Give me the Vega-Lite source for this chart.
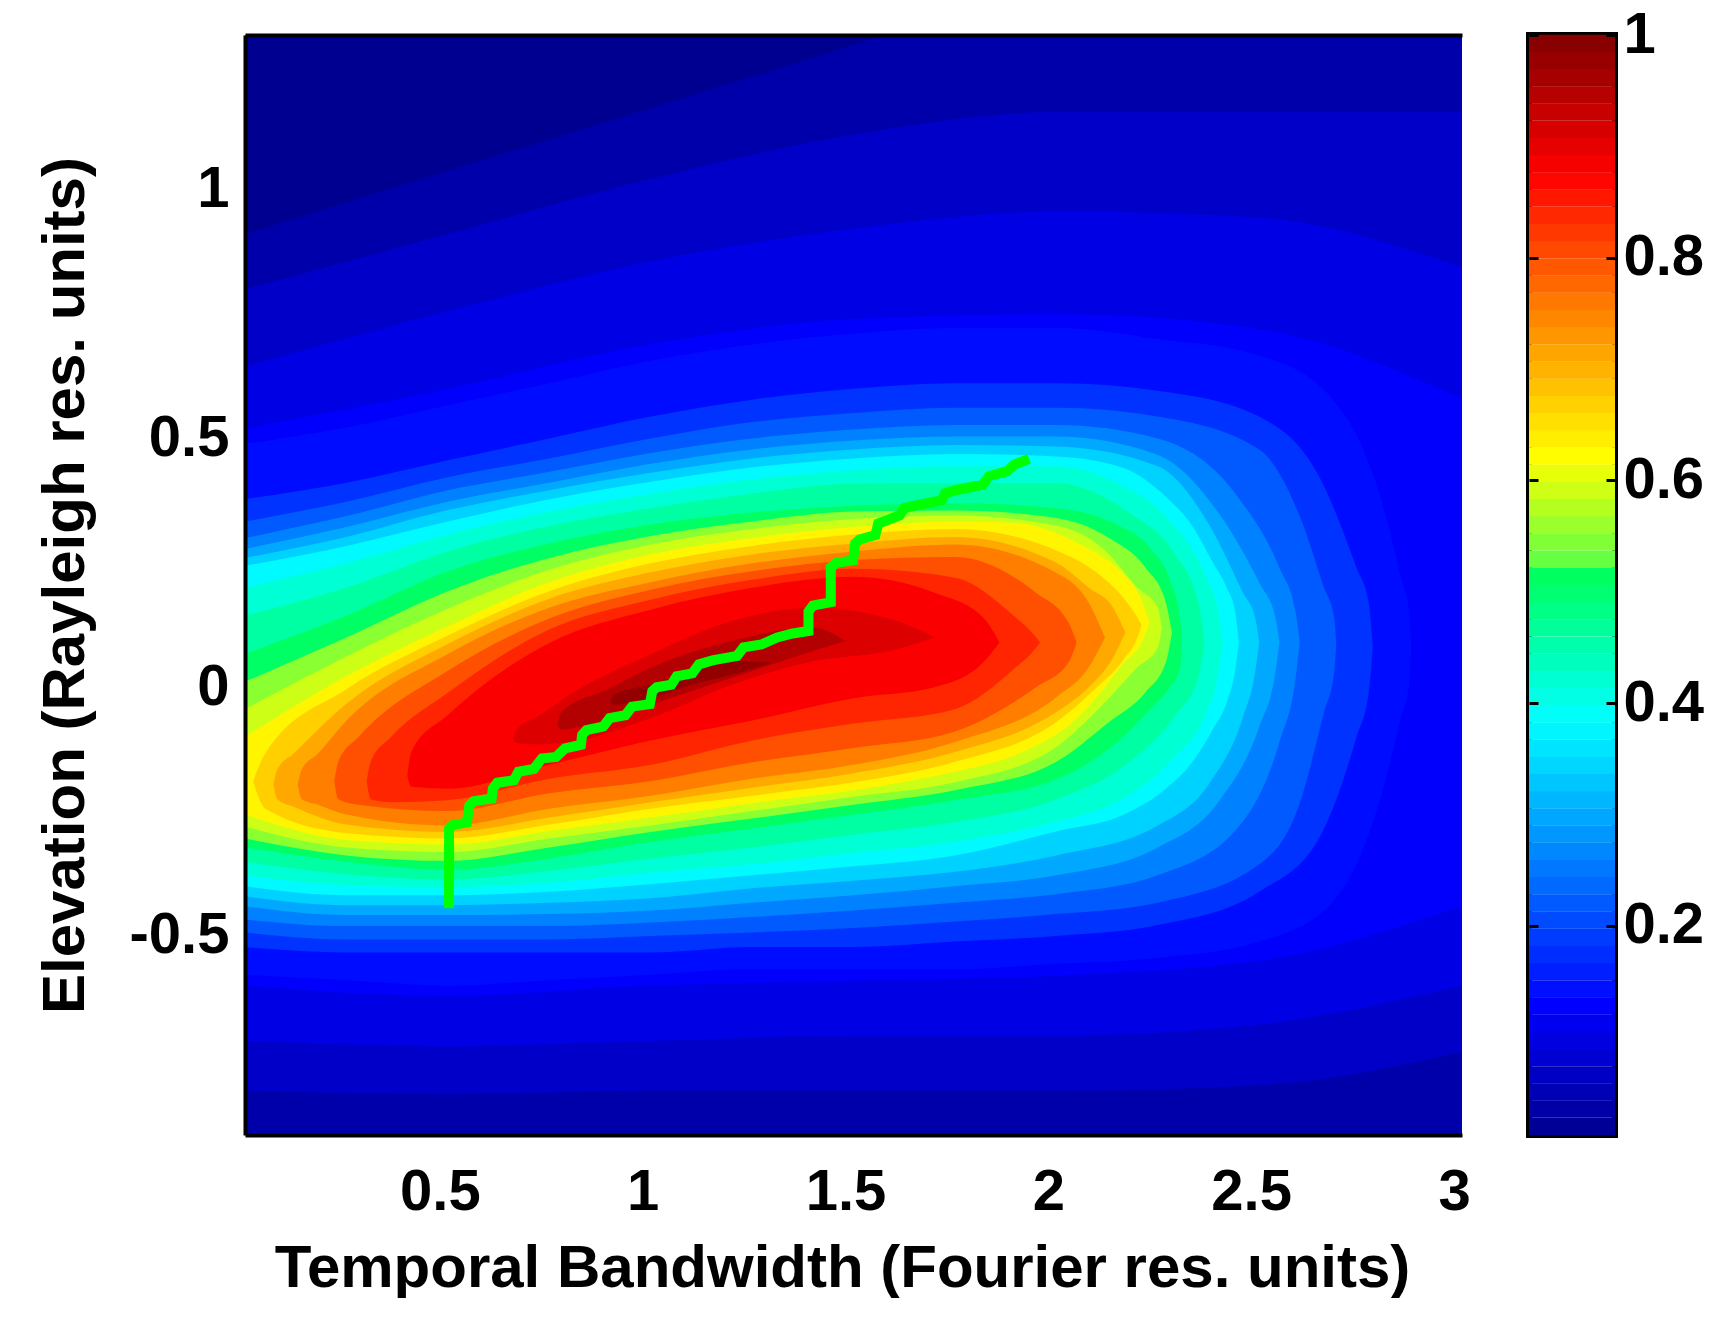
{
  "$schema": "https://vega.github.io/schema/vega-lite/v6.json",
  "description": "Normalised response over temporal bandwidth and elevation with ridge line and colour bar.",
  "background": "white",
  "padding": {"left": 35, "top": 3, "right": 0, "bottom": 0},
  "spacing": 53,
  "config": {
    "font": "Liberation Sans",
    "axis": {
      "grid": false, "domain": false, "ticks": false,
      "labelFont": "Liberation Sans", "labelFontWeight": "bold", "labelFontSize": 58, "labelColor": "#000000",
      "titleFont": "Liberation Sans", "titleFontWeight": "bold", "titleFontSize": 60, "titleColor": "#000000"
    }
  },
  "datasets": {
    "bands": [
      {"level":0.04,"x":0,"top":0.911,"bottom":-1},{"level":0.04,"x":0.5,"top":1.038,"bottom":-1},{"level":0.04,"x":1,"top":1.164,"bottom":-1},{"level":0.04,"x":1.5,"top":1.291,"bottom":-1},{"level":0.04,"x":1.65,"top":1.33,"bottom":-1},{"level":0.04,"x":2,"top":1.4,"bottom":-1},{"level":0.04,"x":3,"top":1.5,"bottom":-1},
      {"level":0.07,"x":0,"top":0.8,"bottom":-0.811},{"level":0.07,"x":0.5,"top":0.911,"bottom":-0.818},{"level":0.07,"x":1,"top":1.022,"bottom":-0.811},{"level":0.07,"x":1.5,"top":1.111,"bottom":-0.811},{"level":0.07,"x":2,"top":1.156,"bottom":-0.811},{"level":0.07,"x":2.5,"top":1.156,"bottom":-0.8},{"level":0.07,"x":3,"top":1.156,"bottom":-0.733},
      {"level":0.1,"x":0,"top":0.644,"bottom":-0.711},{"level":0.1,"x":0.5,"top":0.756,"bottom":-0.722},{"level":0.1,"x":1,"top":0.856,"bottom":-0.711},{"level":0.1,"x":1.5,"top":0.922,"bottom":-0.7},{"level":0.1,"x":2,"top":0.956,"bottom":-0.7},{"level":0.1,"x":2.5,"top":0.944,"bottom":-0.678},{"level":0.1,"x":3,"top":0.844,"bottom":-0.6},
      {"level":0.125,"x":0,"top":0.52,"bottom":-0.6},{"level":0.125,"x":0.5,"top":0.6,"bottom":-0.62},{"level":0.125,"x":1,"top":0.69,"bottom":-0.6},{"level":0.125,"x":1.5,"top":0.74,"bottom":-0.59},{"level":0.125,"x":2,"top":0.75,"bottom":-0.58},{"level":0.125,"x":2.5,"top":0.72,"bottom":-0.55},{"level":0.125,"x":3,"top":0.58,"bottom":-0.44},
      {"level":0.14,"x":0,"top":0.489,"bottom":-0.578},{"level":0.14,"x":0.25,"top":0.522,"bottom":-0.589},{"level":0.14,"x":0.5,"top":0.567,"bottom":-0.6},{"level":0.14,"x":0.75,"top":0.611,"bottom":-0.589},{"level":0.14,"x":1,"top":0.656,"bottom":-0.578},{"level":0.14,"x":1.25,"top":0.689,"bottom":-0.567},{"level":0.14,"x":1.5,"top":0.711,"bottom":-0.567},{"level":0.14,"x":1.75,"top":0.722,"bottom":-0.567},{"level":0.14,"x":2,"top":0.722,"bottom":-0.556},{"level":0.14,"x":2.25,"top":0.7,"bottom":-0.544},{"level":0.14,"x":2.5,"top":0.667,"bottom":-0.511},{"level":0.14,"x":2.68,"top":0.58,"bottom":-0.433},{"level":0.14,"x":2.8,"top":0.38,"bottom":-0.22},{"level":0.14,"x":2.85,"top":0.22,"bottom":-0.06},{"level":0.14,"x":2.87,"top":0.15,"bottom":0.01},{"level":0.14,"x":2.875,"top":0.08,"bottom":0.08},
      {"level":0.18,"x":0,"top":0.378,"bottom":-0.522},{"level":0.18,"x":0.25,"top":0.411,"bottom":-0.533},{"level":0.18,"x":0.5,"top":0.456,"bottom":-0.533},{"level":0.18,"x":0.75,"top":0.5,"bottom":-0.533},{"level":0.18,"x":1,"top":0.544,"bottom":-0.533},{"level":0.18,"x":1.25,"top":0.578,"bottom":-0.522},{"level":0.18,"x":1.5,"top":0.6,"bottom":-0.522},{"level":0.18,"x":1.75,"top":0.611,"bottom":-0.511},{"level":0.18,"x":2,"top":0.611,"bottom":-0.5},{"level":0.18,"x":2.25,"top":0.596,"bottom":-0.478},{"level":0.18,"x":2.5,"top":0.544,"bottom":-0.411},{"level":0.18,"x":2.65,"top":0.42,"bottom":-0.3},{"level":0.18,"x":2.74,"top":0.24,"bottom":-0.1},{"level":0.18,"x":2.77,"top":0.17,"bottom":-0.01},{"level":0.18,"x":2.78,"top":0.08,"bottom":0.08},
      {"level":0.22,"x":0,"top":0.333,"bottom":-0.493},{"level":0.22,"x":0.25,"top":0.373,"bottom":-0.507},{"level":0.22,"x":0.5,"top":0.422,"bottom":-0.507},{"level":0.22,"x":0.75,"top":0.46,"bottom":-0.507},{"level":0.22,"x":1,"top":0.5,"bottom":-0.5},{"level":0.22,"x":1.25,"top":0.533,"bottom":-0.493},{"level":0.22,"x":1.5,"top":0.551,"bottom":-0.484},{"level":0.22,"x":1.75,"top":0.562,"bottom":-0.471},{"level":0.22,"x":2,"top":0.562,"bottom":-0.456},{"level":0.22,"x":2.25,"top":0.544,"bottom":-0.433},{"level":0.22,"x":2.5,"top":0.478,"bottom":-0.356},{"level":0.22,"x":2.6,"top":0.344,"bottom":-0.233},{"level":0.22,"x":2.66,"top":0.2,"bottom":-0.05},{"level":0.22,"x":2.685,"top":0.14,"bottom":0.03},{"level":0.22,"x":2.69,"top":0.085,"bottom":0.085},
      {"level":0.26,"x":0,"top":0.3,"bottom":-0.467},{"level":0.26,"x":0.25,"top":0.344,"bottom":-0.48},{"level":0.26,"x":0.5,"top":0.396,"bottom":-0.48},{"level":0.26,"x":0.75,"top":0.433,"bottom":-0.48},{"level":0.26,"x":1,"top":0.471,"bottom":-0.473},{"level":0.26,"x":1.25,"top":0.5,"bottom":-0.462},{"level":0.26,"x":1.5,"top":0.518,"bottom":-0.449},{"level":0.26,"x":1.75,"top":0.527,"bottom":-0.433},{"level":0.26,"x":2,"top":0.527,"bottom":-0.416},{"level":0.26,"x":2.25,"top":0.5,"bottom":-0.378},{"level":0.26,"x":2.45,"top":0.38,"bottom":-0.28},{"level":0.26,"x":2.55,"top":0.24,"bottom":-0.11},{"level":0.26,"x":2.59,"top":0.15,"bottom":0.02},{"level":0.26,"x":2.6,"top":0.09,"bottom":0.09},
      {"level":0.3,"x":0,"top":0.278,"bottom":-0.44},{"level":0.3,"x":0.25,"top":0.322,"bottom":-0.458},{"level":0.3,"x":0.5,"top":0.373,"bottom":-0.458},{"level":0.3,"x":0.75,"top":0.411,"bottom":-0.456},{"level":0.3,"x":1,"top":0.449,"bottom":-0.449},{"level":0.3,"x":1.25,"top":0.478,"bottom":-0.433},{"level":0.3,"x":1.5,"top":0.496,"bottom":-0.418},{"level":0.3,"x":1.75,"top":0.504,"bottom":-0.4},{"level":0.3,"x":2,"top":0.504,"bottom":-0.378},{"level":0.3,"x":2.25,"top":0.467,"bottom":-0.322},{"level":0.3,"x":2.4,"top":0.35,"bottom":-0.23},{"level":0.3,"x":2.5,"top":0.21,"bottom":-0.08},{"level":0.3,"x":2.54,"top":0.14,"bottom":0.03},{"level":0.3,"x":2.55,"top":0.09,"bottom":0.09},
      {"level":0.34,"x":0,"top":0.26,"bottom":-0.42},{"level":0.34,"x":0.25,"top":0.302,"bottom":-0.438},{"level":0.34,"x":0.5,"top":0.356,"bottom":-0.438},{"level":0.34,"x":0.75,"top":0.396,"bottom":-0.433},{"level":0.34,"x":1,"top":0.431,"bottom":-0.424},{"level":0.34,"x":1.25,"top":0.46,"bottom":-0.404},{"level":0.34,"x":1.5,"top":0.478,"bottom":-0.389},{"level":0.34,"x":1.75,"top":0.487,"bottom":-0.371},{"level":0.34,"x":2,"top":0.484,"bottom":-0.338},{"level":0.34,"x":2.25,"top":0.444,"bottom":-0.278},{"level":0.34,"x":2.38,"top":0.322,"bottom":-0.19},{"level":0.34,"x":2.46,"top":0.19,"bottom":-0.06},{"level":0.34,"x":2.49,"top":0.14,"bottom":0.03},{"level":0.34,"x":2.5,"top":0.09,"bottom":0.09},
      {"level":0.38,"x":0,"top":0.244,"bottom":-0.4},{"level":0.38,"x":0.25,"top":0.284,"bottom":-0.418},{"level":0.38,"x":0.5,"top":0.333,"bottom":-0.418},{"level":0.38,"x":0.75,"top":0.378,"bottom":-0.411},{"level":0.38,"x":1,"top":0.413,"bottom":-0.396},{"level":0.38,"x":1.25,"top":0.442,"bottom":-0.378},{"level":0.38,"x":1.5,"top":0.46,"bottom":-0.36},{"level":0.38,"x":1.75,"top":0.469,"bottom":-0.338},{"level":0.38,"x":2,"top":0.464,"bottom":-0.29},{"level":0.38,"x":2.164,"top":0.441,"bottom":-0.257},{"level":0.38,"x":2.27,"top":0.383,"bottom":-0.204},{"level":0.38,"x":2.33,"top":0.33,"bottom":-0.156},{"level":0.38,"x":2.387,"top":0.249,"bottom":-0.083},{"level":0.38,"x":2.42,"top":0.2,"bottom":-0.03},{"level":0.38,"x":2.44,"top":0.155,"bottom":0.03},{"level":0.38,"x":2.45,"top":0.09,"bottom":0.09},
      {"level":0.42,"x":0,"top":0.2,"bottom":-0.378},{"level":0.42,"x":0.25,"top":0.249,"bottom":-0.398},{"level":0.42,"x":0.5,"top":0.307,"bottom":-0.402},{"level":0.42,"x":0.75,"top":0.353,"bottom":-0.393},{"level":0.42,"x":1,"top":0.389,"bottom":-0.373},{"level":0.42,"x":1.25,"top":0.418,"bottom":-0.356},{"level":0.42,"x":1.5,"top":0.436,"bottom":-0.333},{"level":0.42,"x":1.75,"top":0.444,"bottom":-0.311},{"level":0.42,"x":2,"top":0.444,"bottom":-0.27},{"level":0.42,"x":2.15,"top":0.41,"bottom":-0.23},{"level":0.42,"x":2.28,"top":0.335,"bottom":-0.15},{"level":0.42,"x":2.37,"top":0.22,"bottom":-0.05},{"level":0.42,"x":2.4,"top":0.15,"bottom":0.03},{"level":0.42,"x":2.41,"top":0.09,"bottom":0.09},
      {"level":0.46,"x":0,"top":0.144,"bottom":-0.351},{"level":0.46,"x":0.25,"top":0.2,"bottom":-0.376},{"level":0.46,"x":0.5,"top":0.273,"bottom":-0.387},{"level":0.46,"x":0.75,"top":0.324,"bottom":-0.369},{"level":0.46,"x":1,"top":0.36,"bottom":-0.344},{"level":0.46,"x":1.25,"top":0.389,"bottom":-0.322},{"level":0.46,"x":1.5,"top":0.409,"bottom":-0.296},{"level":0.46,"x":1.75,"top":0.41,"bottom":-0.271},{"level":0.46,"x":2,"top":0.41,"bottom":-0.225},{"level":0.46,"x":2.18,"top":0.35,"bottom":-0.15},{"level":0.46,"x":2.29,"top":0.27,"bottom":-0.06},{"level":0.46,"x":2.35,"top":0.17,"bottom":0.02},{"level":0.46,"x":2.365,"top":0.09,"bottom":0.09},
      {"level":0.51,"x":0,"top":0.067,"bottom":-0.322},{"level":0.51,"x":0.25,"top":0.144,"bottom":-0.351},{"level":0.51,"x":0.5,"top":0.233,"bottom":-0.367},{"level":0.51,"x":0.75,"top":0.289,"bottom":-0.344},{"level":0.51,"x":1,"top":0.327,"bottom":-0.311},{"level":0.51,"x":1.25,"top":0.351,"bottom":-0.284},{"level":0.51,"x":1.5,"top":0.365,"bottom":-0.256},{"level":0.51,"x":1.75,"top":0.37,"bottom":-0.227},{"level":0.51,"x":2,"top":0.36,"bottom":-0.185},{"level":0.51,"x":2.15,"top":0.326,"bottom":-0.11},{"level":0.51,"x":2.23,"top":0.281,"bottom":-0.045},{"level":0.51,"x":2.28,"top":0.215,"bottom":0},{"level":0.51,"x":2.305,"top":0.14,"bottom":0.038},{"level":0.51,"x":2.31,"top":0.09,"bottom":0.09},
      {"level":0.55,"x":0,"top":0.011,"bottom":-0.304},{"level":0.55,"x":0.25,"top":0.1,"bottom":-0.338},{"level":0.55,"x":0.5,"top":0.193,"bottom":-0.349},{"level":0.55,"x":0.75,"top":0.26,"bottom":-0.322},{"level":0.55,"x":1,"top":0.304,"bottom":-0.291},{"level":0.55,"x":1.25,"top":0.333,"bottom":-0.264},{"level":0.55,"x":1.5,"top":0.353,"bottom":-0.236},{"level":0.55,"x":1.75,"top":0.355,"bottom":-0.207},{"level":0.55,"x":2,"top":0.34,"bottom":-0.15},{"level":0.55,"x":2.13,"top":0.3,"bottom":-0.07},{"level":0.55,"x":2.22,"top":0.24,"bottom":-0.01},{"level":0.55,"x":2.27,"top":0.17,"bottom":0.05},{"level":0.55,"x":2.285,"top":0.11,"bottom":0.11},
      {"level":0.59,"x":0,"top":-0.044,"bottom":-0.28},{"level":0.59,"x":0.25,"top":0.062,"bottom":-0.322},{"level":0.59,"x":0.5,"top":0.158,"bottom":-0.331},{"level":0.59,"x":0.75,"top":0.236,"bottom":-0.304},{"level":0.59,"x":1,"top":0.287,"bottom":-0.278},{"level":0.59,"x":1.25,"top":0.318,"bottom":-0.249},{"level":0.59,"x":1.5,"top":0.338,"bottom":-0.22},{"level":0.59,"x":1.75,"top":0.345,"bottom":-0.191},{"level":0.59,"x":2,"top":0.325,"bottom":-0.12},{"level":0.59,"x":2.12,"top":0.275,"bottom":-0.03},{"level":0.59,"x":2.2,"top":0.2,"bottom":0.04},{"level":0.59,"x":2.25,"top":0.16,"bottom":0.08},{"level":0.59,"x":2.26,"top":0.12,"bottom":0.12},
      {"level":0.63,"x":0,"top":-0.1,"bottom":-0.256},{"level":0.63,"x":0.25,"top":0.022,"bottom":-0.307},{"level":0.63,"x":0.5,"top":0.122,"bottom":-0.316},{"level":0.63,"x":0.75,"top":0.211,"bottom":-0.289},{"level":0.63,"x":1,"top":0.267,"bottom":-0.262},{"level":0.63,"x":1.25,"top":0.3,"bottom":-0.233},{"level":0.63,"x":1.5,"top":0.322,"bottom":-0.207},{"level":0.63,"x":1.75,"top":0.333,"bottom":-0.17},{"level":0.63,"x":1.9,"top":0.33,"bottom":-0.136},{"level":0.63,"x":2.05,"top":0.291,"bottom":-0.063},{"level":0.63,"x":2.108,"top":0.265,"bottom":-0.012},{"level":0.63,"x":2.164,"top":0.229,"bottom":0.047},{"level":0.63,"x":2.21,"top":0.175,"bottom":0.09},{"level":0.63,"x":2.23,"top":0.13,"bottom":0.13},
      {"level":0.67,"x":0.02,"top":-0.189,"bottom":-0.189},{"level":0.67,"x":0.05,"top":-0.133,"bottom":-0.244},{"level":0.67,"x":0.25,"top":-0.004,"bottom":-0.293},{"level":0.67,"x":0.5,"top":0.104,"bottom":-0.304},{"level":0.67,"x":0.75,"top":0.193,"bottom":-0.276},{"level":0.67,"x":1,"top":0.249,"bottom":-0.244},{"level":0.67,"x":1.25,"top":0.284,"bottom":-0.218},{"level":0.67,"x":1.5,"top":0.307,"bottom":-0.191},{"level":0.67,"x":1.75,"top":0.318,"bottom":-0.15},{"level":0.67,"x":2,"top":0.275,"bottom":-0.07},{"level":0.67,"x":2.1,"top":0.23,"bottom":0},{"level":0.67,"x":2.17,"top":0.175,"bottom":0.06},{"level":0.67,"x":2.2,"top":0.14,"bottom":0.1},{"level":0.67,"x":2.21,"top":0.125,"bottom":0.125},
      {"level":0.71,"x":0.07,"top":-0.196,"bottom":-0.196},{"level":0.71,"x":0.08,"top":-0.165,"bottom":-0.225},{"level":0.71,"x":0.12,"top":-0.133,"bottom":-0.24},{"level":0.71,"x":0.25,"top":-0.033,"bottom":-0.276},{"level":0.71,"x":0.5,"top":0.087,"bottom":-0.291},{"level":0.71,"x":0.75,"top":0.178,"bottom":-0.262},{"level":0.71,"x":1,"top":0.231,"bottom":-0.231},{"level":0.71,"x":1.25,"top":0.267,"bottom":-0.202},{"level":0.71,"x":1.5,"top":0.289,"bottom":-0.173},{"level":0.71,"x":1.75,"top":0.302,"bottom":-0.13},{"level":0.71,"x":2,"top":0.25,"bottom":-0.05},{"level":0.71,"x":2.08,"top":0.2,"bottom":0},{"level":0.71,"x":2.14,"top":0.16,"bottom":0.06},{"level":0.71,"x":2.17,"top":0.11,"bottom":0.11},
      {"level":0.755,"x":0.13,"top":-0.196,"bottom":-0.196},{"level":0.755,"x":0.14,"top":-0.165,"bottom":-0.225},{"level":0.755,"x":0.18,"top":-0.133,"bottom":-0.236},{"level":0.755,"x":0.25,"top":-0.067,"bottom":-0.256},{"level":0.755,"x":0.5,"top":0.067,"bottom":-0.278},{"level":0.755,"x":0.75,"top":0.16,"bottom":-0.244},{"level":0.755,"x":1,"top":0.211,"bottom":-0.218},{"level":0.755,"x":1.25,"top":0.249,"bottom":-0.184},{"level":0.755,"x":1.5,"top":0.273,"bottom":-0.156},{"level":0.755,"x":1.75,"top":0.287,"bottom":-0.11},{"level":0.755,"x":2,"top":0.23,"bottom":-0.02},{"level":0.755,"x":2.08,"top":0.17,"bottom":0.04},{"level":0.755,"x":2.12,"top":0.1,"bottom":0.1},
      {"level":0.8,"x":0.22,"top":-0.189,"bottom":-0.189},{"level":0.8,"x":0.23,"top":-0.15,"bottom":-0.225},{"level":0.8,"x":0.28,"top":-0.1,"bottom":-0.236},{"level":0.8,"x":0.5,"top":0.033,"bottom":-0.249},{"level":0.8,"x":0.75,"top":0.138,"bottom":-0.213},{"level":0.8,"x":1,"top":0.196,"bottom":-0.189},{"level":0.8,"x":1.25,"top":0.233,"bottom":-0.151},{"level":0.8,"x":1.5,"top":0.256,"bottom":-0.122},{"level":0.8,"x":1.75,"top":0.262,"bottom":-0.089},{"level":0.8,"x":1.95,"top":0.19,"bottom":0},{"level":0.8,"x":2.03,"top":0.13,"bottom":0.05},{"level":0.8,"x":2.05,"top":0.09,"bottom":0.09},
      {"level":0.84,"x":0.3,"top":-0.189,"bottom":-0.189},{"level":0.84,"x":0.31,"top":-0.15,"bottom":-0.225},{"level":0.84,"x":0.36,"top":-0.1,"bottom":-0.231},{"level":0.84,"x":0.5,"top":-0.011,"bottom":-0.227},{"level":0.84,"x":0.75,"top":0.116,"bottom":-0.184},{"level":0.84,"x":1,"top":0.176,"bottom":-0.156},{"level":0.84,"x":1.25,"top":0.216,"bottom":-0.107},{"level":0.84,"x":1.5,"top":0.238,"bottom":-0.073},{"level":0.84,"x":1.75,"top":0.22,"bottom":-0.044},{"level":0.84,"x":1.9,"top":0.14,"bottom":0.04},{"level":0.84,"x":1.94,"top":0.11,"bottom":0.07},{"level":0.84,"x":1.96,"top":0.09,"bottom":0.09},
      {"level":0.88,"x":0.4,"top":-0.178,"bottom":-0.178},{"level":0.88,"x":0.41,"top":-0.13,"bottom":-0.2},{"level":0.88,"x":0.5,"top":-0.056,"bottom":-0.204},{"level":0.88,"x":0.75,"top":0.089,"bottom":-0.156},{"level":0.88,"x":1,"top":0.156,"bottom":-0.107},{"level":0.88,"x":1.25,"top":0.2,"bottom":-0.067},{"level":0.88,"x":1.5,"top":0.222,"bottom":-0.022},{"level":0.88,"x":1.7,"top":0.19,"bottom":0},{"level":0.88,"x":1.82,"top":0.14,"bottom":0.05},{"level":0.88,"x":1.86,"top":0.09,"bottom":0.09},
      {"level":0.91,"x":0.66,"top":-0.103,"bottom":-0.103},{"level":0.91,"x":0.67,"top":-0.085,"bottom":-0.112},{"level":0.91,"x":0.72,"top":-0.06,"bottom":-0.115},{"level":0.91,"x":0.8,"top":-0.015,"bottom":-0.11},{"level":0.91,"x":1,"top":0.066,"bottom":-0.062},{"level":0.91,"x":1.2,"top":0.133,"bottom":0.005},{"level":0.91,"x":1.4,"top":0.16,"bottom":0.052},{"level":0.91,"x":1.6,"top":0.135,"bottom":0.075},{"level":0.91,"x":1.7,"top":0.1,"bottom":0.1},
      {"level":0.95,"x":0.77,"top":-0.076,"bottom":-0.076},{"level":0.95,"x":0.78,"top":-0.05,"bottom":-0.085},{"level":0.95,"x":0.9,"top":-0.002,"bottom":-0.062},{"level":0.95,"x":1,"top":0.039,"bottom":-0.035},{"level":0.95,"x":1.2,"top":0.093,"bottom":0.019},{"level":0.95,"x":1.4,"top":0.12,"bottom":0.073},{"level":0.95,"x":1.48,"top":0.093,"bottom":0.093},
      {"level":0.98,"x":0.9,"top":-0.03,"bottom":-0.03},{"level":0.98,"x":0.91,"top":-0.015,"bottom":-0.035},{"level":0.98,"x":1,"top":0.005,"bottom":-0.022},{"level":0.98,"x":1.1,"top":0.032,"bottom":0.005},{"level":0.98,"x":1.2,"top":0.052,"bottom":0.025},{"level":0.98,"x":1.3,"top":0.05,"bottom":0.05}
    ],
    "ridge": [
      {"step":1,"x":0.503,"y":-0.444},{"step":2,"x":0.503,"y":-0.285},{"step":3,"x":0.512,"y":-0.277},{"step":4,"x":0.547,"y":-0.272},{"step":5,"x":0.553,"y":-0.238},{"step":6,"x":0.564,"y":-0.229},{"step":7,"x":0.608,"y":-0.224},{"step":8,"x":0.611,"y":-0.204},{"step":9,"x":0.622,"y":-0.192},{"step":10,"x":0.663,"y":-0.187},{"step":11,"x":0.674,"y":-0.17},{"step":12,"x":0.712,"y":-0.164},{"step":13,"x":0.732,"y":-0.143},{"step":14,"x":0.767,"y":-0.14},{"step":15,"x":0.789,"y":-0.123},{"step":16,"x":0.828,"y":-0.116},{"step":17,"x":0.831,"y":-0.096},{"step":18,"x":0.842,"y":-0.086},{"step":19,"x":0.883,"y":-0.079},{"step":20,"x":0.899,"y":-0.062},{"step":21,"x":0.938,"y":-0.056},{"step":22,"x":0.954,"y":-0.039},{"step":23,"x":0.998,"y":-0.034},{"step":24,"x":1.004,"y":-0.008},{"step":25,"x":1.015,"y":0},{"step":26,"x":1.051,"y":0.005},{"step":27,"x":1.064,"y":0.022},{"step":28,"x":1.103,"y":0.028},{"step":29,"x":1.119,"y":0.046},{"step":30,"x":1.152,"y":0.054},{"step":31,"x":1.213,"y":0.063},{"step":32,"x":1.229,"y":0.08},{"step":33,"x":1.273,"y":0.086},{"step":34,"x":1.312,"y":0.1},{"step":35,"x":1.35,"y":0.108},{"step":36,"x":1.389,"y":0.113},{"step":37,"x":1.389,"y":0.152},{"step":38,"x":1.4,"y":0.164},{"step":39,"x":1.444,"y":0.171},{"step":40,"x":1.444,"y":0.241},{"step":41,"x":1.458,"y":0.25},{"step":42,"x":1.499,"y":0.255},{"step":43,"x":1.504,"y":0.289},{"step":44,"x":1.515,"y":0.297},{"step":45,"x":1.554,"y":0.306},{"step":46,"x":1.561,"y":0.329},{"step":47,"x":1.587,"y":0.337},{"step":48,"x":1.614,"y":0.346},{"step":49,"x":1.625,"y":0.36},{"step":50,"x":1.658,"y":0.366},{"step":51,"x":1.718,"y":0.376},{"step":52,"x":1.726,"y":0.39},{"step":53,"x":1.757,"y":0.397},{"step":54,"x":1.818,"y":0.407},{"step":55,"x":1.834,"y":0.424},{"step":56,"x":1.878,"y":0.434},{"step":57,"x":1.895,"y":0.447},{"step":58,"x":1.933,"y":0.459}
    ],
    "colorbar": [
      {"v":0.0197},{"v":0.0352},{"v":0.0506},{"v":0.066},{"v":0.0815},{"v":0.0969},{"v":0.1124},{"v":0.1278},{"v":0.1432},{"v":0.1587},{"v":0.1741},{"v":0.1896},{"v":0.205},{"v":0.2204},{"v":0.2359},{"v":0.2513},{"v":0.2668},{"v":0.2822},{"v":0.2976},{"v":0.3131},{"v":0.3285},{"v":0.344},{"v":0.3594},{"v":0.3748},{"v":0.3903},{"v":0.4057},{"v":0.4212},{"v":0.4366},{"v":0.452},{"v":0.4675},{"v":0.4829},{"v":0.4984},{"v":0.5138},{"v":0.5292},{"v":0.5447},{"v":0.5601},{"v":0.5756},{"v":0.591},{"v":0.6064},{"v":0.6219},{"v":0.6373},{"v":0.6528},{"v":0.6682},{"v":0.6836},{"v":0.6991},{"v":0.7145},{"v":0.73},{"v":0.7454},{"v":0.7608},{"v":0.7763},{"v":0.7917},{"v":0.8072},{"v":0.8226},{"v":0.838},{"v":0.8535},{"v":0.8689},{"v":0.8844},{"v":0.8998},{"v":0.9152},{"v":0.9307},{"v":0.9461},{"v":0.9616},{"v":0.977},{"v":0.9924}
    ]
  },
  "hconcat": [
    {
      "width": 1217,
      "height": 1100,
      "view": {"fill": "#000090", "stroke": null},
      "resolve": {"axis": {"x": "independent"}},
      "layer": [
        {
          "data": {"name": "bands"},
          "mark": {"type": "area", "interpolate": "monotone", "clip": true},
          "encoding": {
            "x": {
              "field": "x", "type": "quantitative",
              "scale": {"domain": [0, 3], "nice": false, "zero": false},
              "axis": {"values": [0.5, 1, 1.5, 2, 2.5, 3], "labelExpr": "datum.value + ''", "labelFlush": false, "labelOffset": -8, "labelPadding": 28, "title": "Temporal Bandwidth (Fourier res. units)", "titlePadding": 18, "titleX": 597, "domain": true, "domainColor": "#000000", "domainWidth": 4, "zindex": 1}
            },
            "y": {
              "field": "top", "type": "quantitative", "stack": null,
              "scale": {"domain": [-0.9, 1.311], "nice": false, "zero": false},
              "axis": {"values": [-0.5, 0, 0.5, 1], "labelExpr": "datum.value + ''", "labelPadding": 16, "title": "Elevation (Rayleigh res. units)", "titlePadding": 33, "domain": true, "domainColor": "#000000", "domainWidth": 4, "zindex": 1}
            },
            "y2": {"field": "bottom"},
            "detail": {"field": "level", "type": "nominal"},
            "color": {
              "field": "level", "type": "quantitative", "legend": null,
              "scale": {
                "domain": [0.012, 0.128, 0.259, 0.385, 0.52, 0.5201, 0.62, 0.753, 0.876, 1],
                "range": ["#000090", "#0000ff", "#0080ff", "#00ffff", "#00ff58", "#58ff48", "#ffff00", "#ff8000", "#ff0000", "#800000"],
                "interpolate": "rgb"
              }
            }
          }
        },
        {
          "data": {"name": "ridge"},
          "mark": {"type": "line", "color": "#00ff00", "strokeWidth": 10, "strokeJoin": "miter", "strokeCap": "butt", "clip": true},
          "encoding": {
            "x": {
              "field": "x", "type": "quantitative",
              "axis": {"orient": "top", "labels": false, "title": null, "domain": true, "domainColor": "#000000", "domainWidth": 4, "zindex": 1}
            },
            "y": {"field": "y", "type": "quantitative"},
            "order": {"field": "step", "type": "quantitative"}
          }
        }
      ]
    },
    {
      "width": 86,
      "height": 1100,
      "view": {"stroke": "#000000", "strokeWidth": 6},
      "data": {"name": "colorbar"},
      "resolve": {"axis": {"y": "independent"}},
      "layer": [
        {
          "mark": {"type": "rect", "height": 17.4},
          "encoding": {
            "x": {"datum": 0, "type": "quantitative", "scale": {"domain": [0, 1], "nice": false}, "axis": null},
            "x2": {"datum": 1},
            "y": {
              "field": "v", "type": "quantitative",
              "scale": {"domain": [0.012, 1], "nice": false, "zero": false},
              "axis": {
                "orient": "right", "values": [0.2, 0.4, 0.6, 0.8, 1], "labelExpr": "datum.value + ''",
                "labelPadding": 17, "title": null, "ticks": true, "tickColor": "#000000", "tickWidth": 3, "tickSize": -9, "zindex": 1
              }
            },
            "color": {
              "field": "v", "type": "quantitative", "legend": null,
              "scale": {
                "domain": [0.012, 0.128, 0.259, 0.385, 0.52, 0.5201, 0.62, 0.753, 0.876, 1],
                "range": ["#000090", "#0000ff", "#0080ff", "#00ffff", "#00ff58", "#58ff48", "#ffff00", "#ff8000", "#ff0000", "#800000"],
                "interpolate": "rgb"
              }
            }
          }
        },
        {
          "mark": {"type": "rect", "height": 17.4, "opacity": 0},
          "encoding": {
            "x": {"datum": 0, "type": "quantitative", "axis": null},
            "x2": {"datum": 1},
            "y": {
              "field": "v", "type": "quantitative",
              "axis": {
                "orient": "left", "values": [0.2, 0.4, 0.6, 0.8, 1], "labels": false,
                "title": null, "ticks": true, "tickColor": "#000000", "tickWidth": 3, "tickSize": -9, "zindex": 1
              }
            }
          }
        }
      ]
    }
  ]
}
